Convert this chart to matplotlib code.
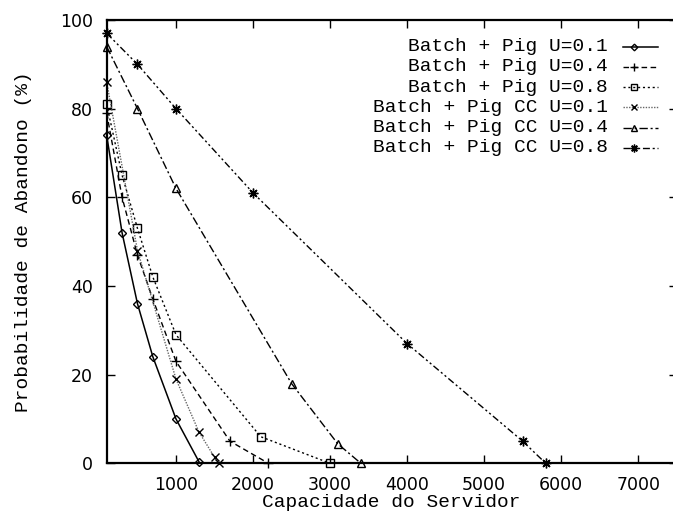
import matplotlib
matplotlib.use('Agg')
import matplotlib.pyplot as plt

# Data
labels = ['Batch + Pig U=0.1', 'Batch + Pig U=0.4', 'Batch + Pig U=0.8',
          'Batch + Pig CC U=0.1', 'Batch + Pig CC U=0.4', 'Batch + Pig CC U=0.8']

x_pig_01 = [100, 300, 500, 700, 1000, 1300]
y_pig_01 = [74, 52, 36, 24, 10, 0.3]

x_pig_04 = [100, 300, 500, 700, 1000, 1700, 2200]
y_pig_04 = [79, 60, 47, 37, 23, 5, 0]

x_pig_08 = [100, 300, 500, 700, 1000, 2100, 3000]
y_pig_08 = [81, 65, 53, 42, 29, 6, 0]

x_cc_01 = [100, 500, 1000, 1300, 1500, 1560]
y_cc_01 = [86, 48, 19, 7, 1.4, 0]

x_cc_04 = [100, 500, 1000, 2500, 3100, 3400]
y_cc_04 = [94, 80, 62, 18, 4.4, 0]

x_cc_08 = [100, 500, 1000, 2000, 4000, 5500, 5800]
y_cc_08 = [97, 90, 80, 61, 27, 5, 0]

xs = [x_pig_01, x_pig_04, x_pig_08, x_cc_01, x_cc_04, x_cc_08]
ys = [y_pig_01, y_pig_04, y_pig_08, y_cc_01, y_cc_04, y_cc_08]

styles = [
    dict(ls='-', marker='D', ms=4.2, lw=1.1, color='black'),
    dict(ls=(0, (4, 2.5)), marker='+', ms=6.5, lw=1.0, color='black'),
    dict(ls=(0, (1.5, 2)), marker='s', ms=5.5, lw=1.0, color='black'),
    dict(ls=(0, (1, 1)), marker='x', ms=5.5, lw=1.0, color='#666666'),
    dict(ls=(0, (6, 2, 1.5, 2)), marker='^', ms=5.5, lw=1.0, color='black'),
    dict(ls=(0, (5, 2, 1.5, 2, 1.5, 2)), marker=(8, 2, 0), ms=7, lw=1.0, color='black'),
]

mono = 'Liberation Mono'

fig = plt.figure(figsize=(6.73, 5.14), dpi=100)
ax = fig.add_axes([0.1585, 0.0986, 0.847, 0.8625])

for x, y, st in zip(xs, ys, styles):
    ax.plot(x, y, mfc='none', mec='black', mew=1.0, clip_on=False, **st)

ax.set_xlim(100, 7500)
ax.set_ylim(0, 100)
ax.set_xticks([1000, 2000, 3000, 4000, 5000, 6000, 7000])
ax.set_yticks([0, 20, 40, 60, 80, 100])
ax.tick_params(direction='in', length=6, width=1.0, top=True, right=True,
               labelsize=12.5)
ax.tick_params(axis='y', pad=10)
ax.tick_params(axis='x', pad=9)
for sp in ax.spines.values():
    sp.set_linewidth(1.6)

ax.set_xlabel('Capacidade do Servidor', family=mono, fontsize=14, labelpad=0)
ax.set_ylabel('Probabilidade de Abandono (%)', family=mono, fontsize=14, labelpad=20)

# gnuplot-style legend: right-aligned text with a short sample line
W, H = 673.0, 514.0
row_y = [46.7, 66.5, 87, 107.3, 127.7, 147.5]
for lab, st, yy in zip(labels, styles, row_y):
    fy = 1 - yy / H
    fig.text(608 / W, fy, lab, family=mono, fontsize=14, ha='right', va='center')
    fig.add_artist(plt.Line2D([623 / W, 658 / W], [fy, fy], transform=fig.transFigure,
                              ls=st['ls'], lw=st['lw'], color=st['color']))
    fig.add_artist(plt.Line2D([634 / W], [fy], transform=fig.transFigure,
                              marker=st['marker'], ms=st['ms'] * 0.8, mfc='none',
                              mec='black', mew=1.0, ls='none'))

fig.savefig('out.png', dpi=100)
